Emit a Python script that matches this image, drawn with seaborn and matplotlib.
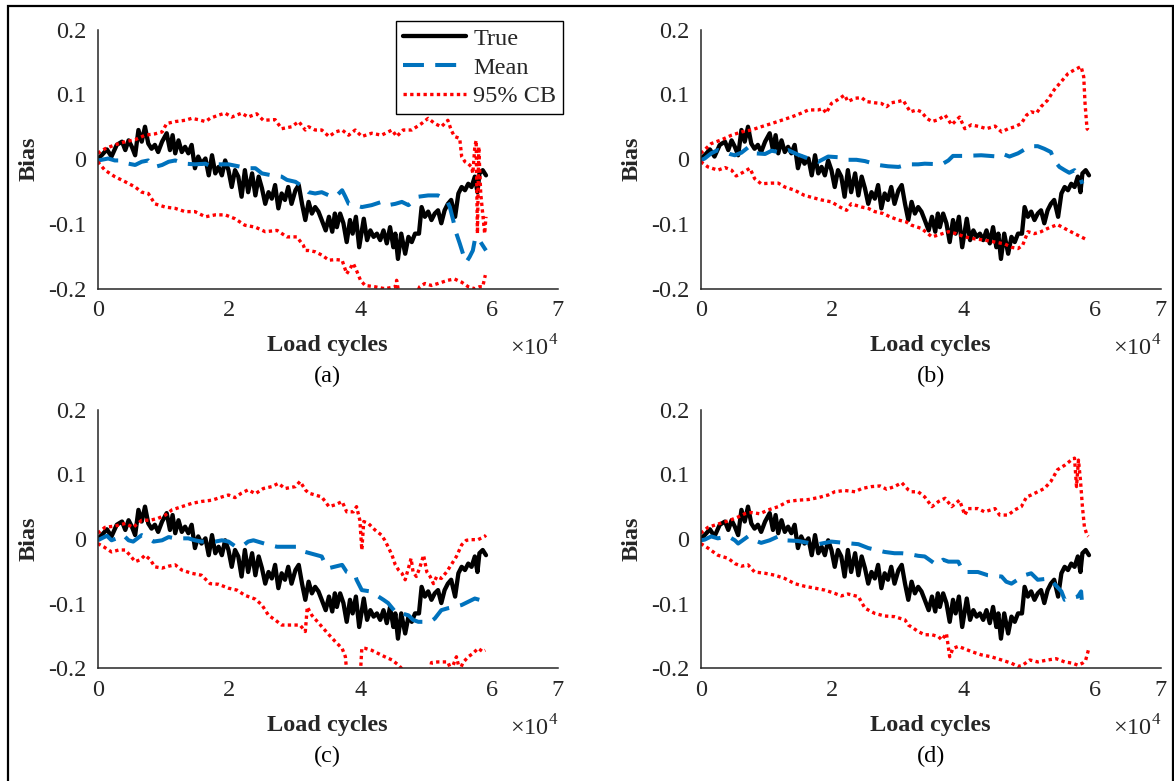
import matplotlib
matplotlib.use("Agg")
import matplotlib.pyplot as plt
import numpy as np
import pandas as pd
import seaborn as sns
from matplotlib.lines import Line2D
from matplotlib.patches import Rectangle

# ---------------- data (x in units of 1e4 load cycles, y = bias) ----------------
true_x = [0.00,0.06,0.14,0.21,0.29,0.37,0.42,0.47,0.52,0.57,0.62,0.67,0.72,0.77,0.82,0.87,0.92,0.98,1.05,1.10,
          1.14,1.18,1.23,1.28,1.33,1.38,1.43,1.48,1.53,1.58,1.64,1.69,1.74,1.79,1.84,1.89,1.94,1.99,2.04,2.09,
          2.14,2.19,2.24,2.29,2.35,2.40,2.45,2.50,2.55,2.60,2.65,2.70,2.75,2.80,2.85,2.90,2.95,3.01,3.06,3.11,
          3.16,3.21,3.26,3.31,3.36,3.41,3.47,3.52,3.57,3.61,3.64,3.69,3.74,3.79,3.84,3.88,3.93,3.98,4.05,4.10,
          4.15,4.20,4.25,4.30,4.35,4.40,4.45,4.50,4.53,4.57,4.62,4.68,4.73,4.78,4.83,4.89,4.93,4.98,5.03,5.08,
          5.13,5.18,5.23,5.28,5.33,5.38,5.44,5.49,5.54,5.59,5.64,5.69,5.74,5.78,5.81,5.86,5.91]
true_y = [0.000,0.006,0.015,0.004,0.022,0.027,0.014,0.029,0.019,0.006,0.045,0.027,0.050,0.024,0.016,0.022,0.011,0.027,0.040,0.014,
          0.037,0.009,0.029,0.011,0.019,0.009,0.022,-0.014,0.004,-0.007,0.001,-0.025,0.006,-0.022,-0.012,-0.025,-0.002,-0.017,-0.043,-0.017,
          -0.027,-0.058,-0.017,-0.051,-0.022,-0.056,-0.027,-0.045,-0.069,-0.051,-0.061,-0.040,-0.076,-0.053,-0.063,-0.043,-0.069,-0.048,-0.040,-0.069,
          -0.094,-0.066,-0.084,-0.074,-0.081,-0.094,-0.110,-0.089,-0.112,-0.084,-0.105,-0.084,-0.099,-0.128,-0.094,-0.115,-0.089,-0.136,-0.092,-0.125,
          -0.110,-0.120,-0.115,-0.125,-0.110,-0.130,-0.105,-0.136,-0.115,-0.154,-0.115,-0.146,-0.120,-0.128,-0.115,-0.115,-0.074,-0.089,-0.081,-0.094,
          -0.084,-0.079,-0.099,-0.079,-0.069,-0.063,-0.089,-0.053,-0.043,-0.048,-0.038,-0.043,-0.027,-0.051,-0.022,-0.017,-0.025]

# panel (a)
a_mean = [(0,-0.002),(0.06,-0.001),(0.16,0.001),(0.26,-0.002),(0.37,-0.002),(0.47,-0.007),(0.57,-0.009),(0.67,-0.004),
          (0.77,-0.002),(0.87,-0.012),(0.98,-0.009),(1.08,-0.004),(1.18,-0.002),(1.33,-0.007),(1.48,-0.008),(1.64,-0.007),
          (1.74,-0.012),(1.84,-0.008),(1.99,-0.008),(2.14,-0.011),(2.27,-0.014),(2.40,-0.014),(2.50,-0.022),(2.65,-0.025),
          (2.80,-0.027),(2.88,-0.032),(3.01,-0.035),(3.13,-0.043),(3.21,-0.051),(3.31,-0.053),(3.41,-0.051),(3.52,-0.056),
          (3.62,-0.058),(3.72,-0.048),(3.77,-0.058),(3.82,-0.069),(3.92,-0.071),(4.02,-0.074),(4.17,-0.071),(4.32,-0.066),
          (4.42,-0.071),(4.53,-0.069),(4.63,-0.066),(4.73,-0.071),(4.88,-0.058),(5.03,-0.056),(5.18,-0.056),(5.31,-0.063),
          (5.36,-0.074),(5.41,-0.094),(5.46,-0.115),(5.51,-0.130),(5.56,-0.146),(5.61,-0.159),(5.66,-0.151),(5.71,-0.141),
          (5.74,-0.125),(5.78,-0.120),(5.84,-0.130),(5.91,-0.141)]
a_upper = [(0,0.009),(0.11,0.016),(0.26,0.022),(0.42,0.027),(0.57,0.030),(0.72,0.037),(0.87,0.039),(0.98,0.042),
           (1.05,0.055),(1.18,0.058),(1.33,0.060),(1.43,0.063),(1.53,0.061),(1.64,0.058),(1.71,0.063),(1.84,0.068),
           (1.94,0.071),(2.04,0.065),(2.19,0.071),(2.29,0.065),(2.42,0.070),(2.52,0.060),(2.70,0.061),(2.80,0.047),
           (2.95,0.050),(3.06,0.058),(3.16,0.045),(3.21,0.050),(3.31,0.045),(3.41,0.045),(3.52,0.035),(3.62,0.042),
           (3.72,0.045),(3.82,0.037),(3.92,0.045),(4.02,0.035),(4.17,0.040),(4.32,0.037),(4.48,0.045),(4.55,0.035),
           (4.65,0.045),(4.78,0.045),(4.93,0.055),(5.03,0.063),(5.13,0.055),(5.23,0.050),(5.33,0.060),(5.38,0.045),
           (5.43,0.035),(5.51,0.032),(5.54,0.004),(5.59,-0.004),(5.64,-0.007),(5.69,-0.012),(5.71,-0.022),(5.74,0.019),
           (5.76,0.029),(5.78,-0.115),(5.80,0.019),(5.83,-0.053),(5.86,-0.084),(5.89,-0.115),(5.91,-0.089)]
a_lower = [(0,-0.004),(0.11,-0.017),(0.26,-0.027),(0.42,-0.035),(0.57,-0.043),(0.67,-0.051),(0.77,-0.053),(0.87,-0.069),
           (1.03,-0.074),(1.18,-0.076),(1.33,-0.081),(1.48,-0.081),(1.64,-0.089),(1.79,-0.086),(1.94,-0.086),(2.09,-0.092),
           (2.24,-0.102),(2.40,-0.105),(2.55,-0.112),(2.73,-0.110),(2.88,-0.120),(3.03,-0.120),(3.13,-0.133),(3.16,-0.141),
           (3.21,-0.141),(3.31,-0.143),(3.41,-0.148),(3.52,-0.156),(3.62,-0.155),(3.72,-0.156),(3.79,-0.177),(3.89,-0.161),
           (3.94,-0.172),(4.00,-0.187),(4.07,-0.195),(4.22,-0.197),(4.37,-0.200),(4.53,-0.197),(4.55,-0.187),(4.58,-0.205),
           (4.70,-0.215),(4.85,-0.210),(4.90,-0.197),(4.98,-0.192),(5.08,-0.195),(5.18,-0.192),(5.33,-0.187),(5.43,-0.185),
           (5.54,-0.190),(5.64,-0.197),(5.74,-0.200),(5.81,-0.197),(5.86,-0.197),(5.90,-0.179)]

# panel (b)
b_mean = [(0,-0.002),(0.06,0.001),(0.16,0.009),(0.26,0.014),(0.37,0.011),(0.44,0.008),(0.52,0.006),(0.62,0.010),
          (0.72,0.018),(0.82,0.009),(0.98,0.008),(1.08,0.013),(1.18,0.011),(1.33,0.014),(1.48,0.007),(1.64,0.001),
          (1.79,-0.004),(1.94,0.004),(2.09,0.003),(2.24,-0.001),(2.37,-0.001),(2.50,-0.003),(2.70,-0.009),(2.85,-0.011),
          (3.01,-0.012),(3.16,-0.008),(3.31,-0.008),(3.41,-0.007),(3.67,-0.008),(3.77,-0.002),(3.84,0.005),(4.02,0.005),
          (4.27,0.006),(4.53,0.004),(4.60,0.008),(4.70,0.004),(4.83,0.009),(4.93,0.015),(5.03,0.020),(5.13,0.020),
          (5.23,0.016),(5.33,0.011),(5.38,-0.002),(5.46,-0.012),(5.54,-0.017),(5.61,-0.021),(5.69,-0.017),(5.76,-0.025),
          (5.81,-0.038)]
b_upper = [(0,0.009),(0.16,0.024),(0.32,0.030),(0.47,0.037),(0.62,0.042),(0.77,0.045),(0.92,0.050),(1.08,0.055),
           (1.23,0.060),(1.38,0.065),(1.53,0.071),(1.64,0.076),(1.79,0.076),(1.86,0.078),(1.91,0.071),(1.99,0.086),
           (2.09,0.092),(2.19,0.099),(2.24,0.089),(2.35,0.094),(2.45,0.095),(2.52,0.089),(2.65,0.087),(2.75,0.086),
           (2.83,0.081),(2.90,0.087),(3.01,0.089),(3.08,0.091),(3.16,0.078),(3.19,0.073),(3.29,0.076),(3.36,0.073),
           (3.44,0.063),(3.52,0.058),(3.62,0.061),(3.72,0.068),(3.82,0.053),(3.94,0.065),(4.02,0.047),(4.12,0.053),
           (4.25,0.050),(4.35,0.047),(4.48,0.051),(4.58,0.042),(4.68,0.047),(4.78,0.050),(4.88,0.055),(4.96,0.068),
           (5.03,0.073),(5.11,0.071),(5.18,0.081),(5.28,0.091),(5.38,0.107),(5.49,0.120),(5.59,0.132),(5.69,0.138),
           (5.79,0.143),(5.83,0.127),(5.85,0.086),(5.88,0.047),(5.90,0.045)]
b_lower = [(0,-0.004),(0.11,-0.012),(0.26,-0.017),(0.37,-0.013),(0.47,-0.017),(0.54,-0.026),(0.65,-0.020),(0.75,-0.014),
           (0.82,-0.030),(0.92,-0.038),(1.08,-0.037),(1.18,-0.037),(1.28,-0.043),(1.43,-0.048),(1.58,-0.056),(1.69,-0.059),
           (1.84,-0.063),(1.99,-0.066),(2.12,-0.074),(2.22,-0.079),(2.29,-0.069),(2.45,-0.074),(2.55,-0.076),(2.65,-0.081),
           (2.78,-0.084),(2.88,-0.089),(3.01,-0.094),(3.13,-0.097),(3.21,-0.102),(3.36,-0.107),(3.52,-0.120),(3.62,-0.117),
           (3.77,-0.112),(3.89,-0.115),(4.02,-0.120),(4.17,-0.123),(4.32,-0.125),(4.48,-0.128),(4.63,-0.131),(4.73,-0.136),
           (4.83,-0.138),(4.90,-0.133),(4.98,-0.112),(5.08,-0.115),(5.18,-0.112),(5.28,-0.107),(5.43,-0.101),(5.54,-0.107),
           (5.69,-0.115),(5.79,-0.120),(5.89,-0.125)]

# panel (c)
c_mean = [(0,-0.002),(0.06,0.001),(0.14,0.005),(0.21,-0.002),(0.29,0.001),(0.39,0.006),(0.47,-0.002),(0.54,-0.004),
          (0.67,0.006),(0.77,0.001),(0.85,-0.004),(0.98,-0.002),(1.08,0.003),(1.18,0.001),(1.38,0.001),(1.48,-0.002),
          (1.58,-0.004),(1.79,-0.004),(1.89,-0.002),(1.99,-0.004),(2.09,-0.011),(2.19,-0.012),(2.29,-0.004),(2.37,-0.002),
          (2.60,-0.009),(2.73,-0.012),(2.85,-0.012),(3.06,-0.012),(3.13,-0.017),(3.16,-0.020),(3.41,-0.027),(3.47,-0.040),
          (3.52,-0.045),(3.72,-0.040),(3.79,-0.051),(3.92,-0.056),(3.94,-0.063),(4.02,-0.079),(4.15,-0.081),(4.35,-0.094),
          (4.42,-0.099),(4.55,-0.115),(4.63,-0.115),(4.73,-0.118),(4.80,-0.125),(4.88,-0.128),(4.96,-0.128),(5.06,-0.128),
          (5.13,-0.123),(5.23,-0.110),(5.33,-0.107),(5.43,-0.105),(5.54,-0.102),(5.74,-0.092),(5.81,-0.094),(5.90,-0.097)]
c_upper = [(0,0.009),(0.11,0.018),(0.26,0.020),(0.42,0.024),(0.54,0.018),(0.67,0.029),(0.80,0.029),(0.92,0.032),
           (1.03,0.037),(1.13,0.045),(1.28,0.050),(1.43,0.055),(1.58,0.058),(1.74,0.060),(1.89,0.065),(1.99,0.068),
           (2.09,0.064),(2.19,0.071),(2.29,0.076),(2.40,0.070),(2.52,0.078),(2.65,0.081),(2.75,0.086),(2.85,0.078),
           (3.01,0.081),(3.08,0.089),(3.16,0.076),(3.21,0.071),(3.31,0.068),(3.41,0.065),(3.52,0.050),(3.62,0.053),
           (3.72,0.058),(3.79,0.042),(3.89,0.042),(3.94,0.050),(3.99,0.029),(4.02,-0.017),(4.05,0.027),(4.12,0.024),
           (4.22,0.014),(4.32,0.006),(4.37,-0.002),(4.42,-0.012),(4.48,-0.025),(4.53,-0.040),(4.58,-0.048),(4.63,-0.053),
           (4.68,-0.063),(4.73,-0.045),(4.77,-0.030),(4.80,-0.051),(4.85,-0.058),(4.90,-0.045),(4.96,-0.025),(5.01,-0.051),
           (5.06,-0.058),(5.11,-0.069),(5.16,-0.058),(5.23,-0.061),(5.31,-0.051),(5.38,-0.040),(5.46,-0.027),(5.54,-0.009),
           (5.61,-0.002),(5.69,-0.001),(5.79,-0.001),(5.89,0.004),(5.91,0.006)]
c_lower = [(0,-0.007),(0.09,-0.012),(0.21,-0.020),(0.32,-0.017),(0.42,-0.017),(0.49,-0.025),(0.57,-0.035),(0.65,-0.032),
           (0.72,-0.025),(0.80,-0.032),(0.87,-0.043),(0.98,-0.045),(1.08,-0.042),(1.18,-0.040),(1.28,-0.048),(1.43,-0.053),
           (1.58,-0.056),(1.71,-0.069),(1.84,-0.070),(1.99,-0.076),(2.12,-0.079),(2.24,-0.087),(2.40,-0.093),(2.50,-0.102),
           (2.60,-0.118),(2.70,-0.125),(2.80,-0.133),(2.95,-0.133),(3.08,-0.133),(3.16,-0.143),(3.19,-0.105),(3.26,-0.118),
           (3.39,-0.133),(3.52,-0.148),(3.62,-0.159),(3.72,-0.169),(3.77,-0.182),(3.79,-0.205),(3.90,-0.220),(3.98,-0.210),
           (4.00,-0.205),(4.02,-0.169),(4.07,-0.169),(4.17,-0.172),(4.27,-0.177),(4.37,-0.182),(4.48,-0.187),(4.58,-0.195),
           (4.65,-0.203),(4.85,-0.220),(5.06,-0.205),(5.08,-0.191),(5.18,-0.190),(5.33,-0.190),(5.38,-0.203),(5.46,-0.182),
           (5.51,-0.203),(5.56,-0.191),(5.64,-0.182),(5.71,-0.177),(5.79,-0.169),(5.86,-0.174),(5.90,-0.172)]

# panel (d)
d_mean = [(0,-0.002),(0.06,-0.001),(0.16,0.004),(0.26,0.001),(0.42,0.004),(0.52,-0.002),(0.57,-0.007),(0.72,0.004),
          (0.82,-0.002),(0.92,-0.006),(1.05,-0.002),(1.18,0.004),(1.28,-0.002),(1.48,-0.003),(1.64,-0.006),(1.79,-0.008),
          (1.99,-0.004),(2.19,-0.006),(2.40,-0.008),(2.55,-0.014),(2.80,-0.020),(2.95,-0.022),(3.06,-0.022),(3.16,-0.023),
          (3.31,-0.026),(3.41,-0.027),(3.59,-0.040),(3.69,-0.032),(3.77,-0.035),(3.92,-0.035),(4.00,-0.051),(4.22,-0.051),
          (4.37,-0.056),(4.58,-0.058),(4.65,-0.066),(4.73,-0.069),(4.93,-0.056),(5.03,-0.053),(5.13,-0.063),(5.31,-0.061),
          (5.38,-0.069),(5.49,-0.081),(5.54,-0.094),(5.61,-0.092),(5.74,-0.089),(5.79,-0.081),(5.80,-0.094)]
d_upper = [(0,0.009),(0.11,0.018),(0.26,0.023),(0.42,0.028),(0.57,0.034),(0.67,0.039),(0.77,0.041),(0.90,0.039),
           (1.03,0.045),(1.18,0.050),(1.33,0.058),(1.48,0.060),(1.64,0.061),(1.79,0.064),(1.94,0.068),(2.04,0.073),
           (2.19,0.075),(2.35,0.073),(2.45,0.078),(2.60,0.081),(2.73,0.082),(2.83,0.077),(2.95,0.081),(3.06,0.087),
           (3.16,0.076),(3.21,0.073),(3.31,0.073),(3.41,0.065),(3.52,0.050),(3.62,0.058),(3.72,0.063),(3.82,0.050),
           (3.94,0.060),(4.02,0.037),(4.07,0.047),(4.22,0.047),(4.32,0.042),(4.48,0.047),(4.55,0.037),(4.68,0.037),
           (4.78,0.045),(4.88,0.050),(4.96,0.065),(5.03,0.068),(5.13,0.073),(5.23,0.078),(5.33,0.089),(5.43,0.107),
           (5.54,0.114),(5.64,0.122),(5.69,0.125),(5.72,0.081),(5.75,0.122),(5.78,0.091),(5.81,0.050),(5.84,0.019),
           (5.88,0.006),(5.90,0.004)]
d_lower = [(0,-0.007),(0.11,-0.014),(0.26,-0.025),(0.42,-0.030),(0.52,-0.038),(0.62,-0.042),(0.72,-0.040),(0.82,-0.051),
           (0.98,-0.053),(1.13,-0.056),(1.28,-0.061),(1.43,-0.069),(1.58,-0.073),(1.74,-0.076),(1.89,-0.079),(2.04,-0.084),
           (2.14,-0.088),(2.24,-0.085),(2.40,-0.089),(2.50,-0.107),(2.65,-0.115),(2.80,-0.119),(2.95,-0.120),(3.11,-0.125),
           (3.16,-0.133),(3.21,-0.136),(3.31,-0.143),(3.41,-0.148),(3.52,-0.148),(3.62,-0.151),(3.67,-0.156),(3.74,-0.146),
           (3.79,-0.182),(3.84,-0.169),(3.92,-0.166),(4.00,-0.169),(4.12,-0.174),(4.27,-0.179),(4.42,-0.182),(4.58,-0.187),
           (4.73,-0.192),(4.83,-0.197),(4.90,-0.195),(5.01,-0.187),(5.13,-0.190),(5.28,-0.187),(5.41,-0.185),(5.54,-0.190),
           (5.66,-0.192),(5.74,-0.195),(5.81,-0.192),(5.86,-0.187),(5.90,-0.172)]

panels = ["(a)", "(b)", "(c)", "(d)"]
x_ticks = [0, 2, 4, 6, 7]
y_ticks = [-0.2, -0.1, 0, 0.1, 0.2]
y_tick_labels = ["-0.2", "-0.1", "0", "0.1", "0.2"]
legend_labels = ["True", "Mean", "95% CB"]

# ---------------- style ----------------
sns.set_theme(style="white")
plt.rcParams["font.family"] = ["Liberation Serif", "DejaVu Serif"]
plt.rcParams["mathtext.fontset"] = "custom"
plt.rcParams["mathtext.rm"] = "Liberation Serif"
plt.rcParams["axes.unicode_minus"] = False

FS = 17.5
AX_COL = "#262626"
BLUE = "#0072BD"
RED = "#FF0000"
TRUE_KW = dict(color="black", linewidth=3.1, linestyle="-")
MEAN_KW = dict(color=BLUE, linewidth=2.9, linestyle=(0, (5.2, 2.8)))
CB_KW = dict(color=RED, linewidth=2.4, linestyle=(0, (1, 1)))

W, H = 1174, 781
fig = plt.figure(figsize=(W / 100, H / 100), dpi=100)

rects = [(97.7, 29.6, 557.6, 288.7), (700.7, 29.6, 1160.6, 288.7),
         (97.7, 409.6, 557.6, 668.4), (700.7, 409.6, 1160.6, 668.4)]
series = [(a_mean, a_upper, a_lower), (b_mean, b_upper, b_lower),
          (c_mean, c_upper, c_lower), (d_mean, d_upper, d_lower)]

true_df = pd.DataFrame({"x": true_x, "y": true_y})


def to_df(pairs):
    return pd.DataFrame(pairs, columns=["x", "y"])


axes = []
for (l, t, r, b), (mean, up, lo), tag in zip(rects, series, panels):
    ax = fig.add_axes([l / W, 1 - b / H, (r - l) / W, (b - t) / H])
    axes.append(ax)
    sns.lineplot(data=true_df, x="x", y="y", ax=ax, estimator=None, sort=False, **TRUE_KW)
    sns.lineplot(data=to_df(mean), x="x", y="y", ax=ax, estimator=None, sort=False, **MEAN_KW)
    sns.lineplot(data=to_df(up), x="x", y="y", ax=ax, estimator=None, sort=False, **CB_KW)
    sns.lineplot(data=to_df(lo), x="x", y="y", ax=ax, estimator=None, sort=False, **CB_KW)
    if ax.get_legend() is not None:
        ax.get_legend().remove()
    ax.set_xlim(0, 7)
    ax.set_ylim(-0.2, 0.2)
    ax.set_xticks(x_ticks)
    ax.set_xticklabels([str(v) for v in x_ticks])
    ax.set_yticks(y_ticks)
    ax.set_yticklabels(y_tick_labels)
    ax.set_xlabel("")
    ax.set_ylabel("")
    for s in ["top", "right"]:
        ax.spines[s].set_visible(False)
    for s in ["left", "bottom"]:
        ax.spines[s].set_color(AX_COL)
        ax.spines[s].set_linewidth(1.1)
    ax.tick_params(direction="in", length=5, width=1.1, color=AX_COL,
                   labelsize=FS, labelcolor=AX_COL, pad=8)
    ax.set_facecolor("none")

    cx = (l + r) / 2
    fig.text(cx / W, 1 - (t + 315.5) / H, "Load cycles", ha="center", va="center",
             fontsize=FS, fontweight="bold", color=AX_COL)
    fig.text(cx / W, 1 - (t + 347) / H, tag, ha="center", va="center",
             fontsize=FS, color="black")
    fig.text((r + 1) / W, 1 - (t + 318) / H, r"$\times10^{4}$", ha="right", va="center",
             fontsize=FS, color=AX_COL)
    fig.text((l - 69) / W, 1 - (t + b) / 2 / H, "Bias", ha="center", va="center",
             rotation=90, fontsize=FS, fontweight="bold", color=AX_COL)

handles = [Line2D([], [], **TRUE_KW), Line2D([], [], **MEAN_KW), Line2D([], [], **CB_KW)]
leg = axes[0].legend(handles, legend_labels, loc="upper right",
                     bbox_to_anchor=(563 / W, 1 - 21 / H), bbox_transform=fig.transFigure,
                     borderaxespad=0, frameon=True, fancybox=False, framealpha=1,
                     edgecolor="black", fontsize=FS, handlelength=2.6, handletextpad=0.3,
                     labelspacing=0.28, borderpad=0.28)
leg.get_frame().set_linewidth(1.0)

fig.add_artist(Rectangle((7.5 / W, -0.05), (1172.5 - 7.5) / W, 1 - 6 / H + 0.05,
                         transform=fig.transFigure, fill=False, edgecolor="black", linewidth=1.6))

fig.savefig("out.png", dpi=100)
